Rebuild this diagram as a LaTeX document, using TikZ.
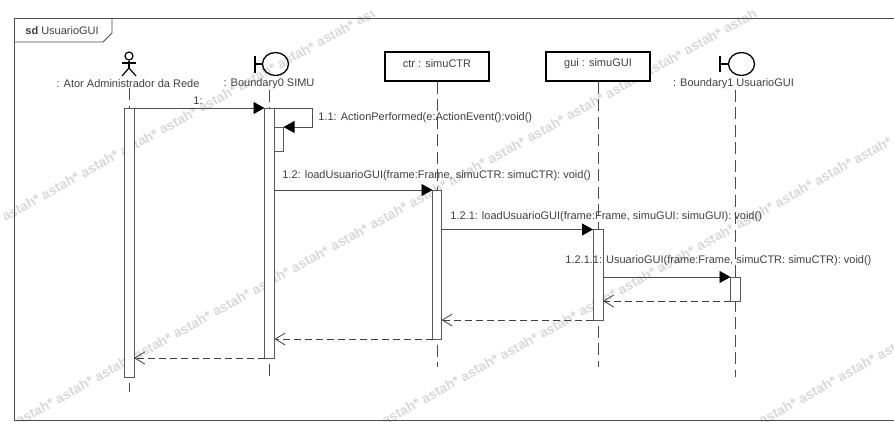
\documentclass[tikz,border=0pt]{standalone}
\usepackage{fontspec}
\setmainfont{Liberation Sans}
\usetikzlibrary{arrows.meta, shapes.geometric}

\begin{document}
\begin{tikzpicture}[x=1pt, y=-1pt, line width=0.8pt,
  wmark/.style={rotate=29, anchor=base west, text=black!15, font=\fontsize{13.7}{15}\selectfont\bfseries, inner sep=0pt},
  lbl/.style={text=black!75, font=\fontsize{11}{12}\selectfont, inner sep=0pt},
  life/.style={black!70, dash pattern=on 12pt off 5.5pt},
  lifeend/.style={life, dash phase=12pt},
  activation/.style={draw=black!65, fill=white, minimum width=10pt, inner sep=0pt, outer sep=0pt},
  objbox/.style={draw=black, line width=1.6pt, fill=white, minimum width=104pt, minimum height=29pt, inner sep=0pt},
  bndcirc/.style={ellipse, draw=black, line width=1.3pt, minimum width=26pt, minimum height=23pt, inner sep=0pt},
  msg/.style={black!70, -{Triangle[length=11pt, width=12pt, color=black]}},
  ret/.style={black!75, dash pattern=on 7pt off 4pt, -{Straight Barb[length=10pt, width=12pt]}}]
  \useasboundingbox (0,0) rectangle (894,421);
  \fill[white] (0,0) rectangle (894,421);
  \def\wm{astah* astah* astah* astah* astah* astah* astah* }
  % watermark strips
  \begin{scope}
    \clip (0,11) rectangle (894,421);
    \node[wmark] (wmA) at (5,222) {\wm astah* astah* ast};
    \node[wmark] (wmB) at (19,426) {\wm\wm\wm};
    \node[wmark] (wmC) at (385,426) {\wm\wm};
    \node[wmark] (wmD) at (762,426) {astah* astah* astah* astah*};
  \end{scope}
  % frame
  \draw[black!70] (894,18.5) -- (14.5,18.5) -- (14.5,420.5) -- (894,420.5);
  \draw[black!70, fill=white] (14.5,18.5) -- (112,18.5) -- (112,33) -- (103,42) -- (14.5,42) -- cycle;
  \node[lbl, anchor=west] (title) at (25,31) {\textbf{sd}~UsuarioGUI};
  % linhas das mensagens
  \coordinate (y1) at (0,108);
  \coordinate (y11) at (0,127);
  \coordinate (y12) at (0,190);
  \coordinate (y121) at (0,229.5);
  \coordinate (y1211) at (0,277);
  \coordinate (r1) at (0,301);
  \coordinate (r2) at (0,320);
  \coordinate (r3) at (0,339);
  \coordinate (r4) at (0,358);
  % ator
  \node[circle, draw=black, line width=1.2pt, minimum size=8pt, inner sep=0pt] (head) at (129,56) {};
  \coordinate (hip) at (129,68);
  \draw[line width=1.2pt] (head.south) -- (hip);
  \draw[line width=1.2pt] (122,63) -- (136,63);
  \draw[line width=1.2pt] (122,76) -- (hip) -- (136,76);
  \node[lbl] (ator) at (128,84) {: Ator Administrador da Rede};
  % boundary 0
  \node[bndcirc] (bnd0) at (275.5,64) {};
  \draw[line width=1.3pt] (bnd0.west) -- (255,64);
  \draw[line width=1.3pt] (255,56) -- (255,73);
  \node[lbl] (bnd0lbl) at (269,84) {: Boundary0 SIMU};
  % objetos
  \node[objbox] (ctr) at (437,66.5) {};
  \node[lbl] (ctrlbl) at (437,64) {ctr : simuCTR};
  \node[objbox] (gui) at (598,66.5) {};
  \node[lbl] (guilbl) at (598,64) {gui : simuGUI};
  % boundary 1
  \node[bndcirc] (bnd1) at (741.5,64) {};
  \draw[line width=1.3pt] (bnd1.west) -- (720,64);
  \draw[line width=1.3pt] (720,56) -- (720,72);
  \node[lbl] (bnd1lbl) at (733.5,84) {: Boundary1 UsuarioGUI};
  % ativacoes
  \node[activation, minimum height=269pt] (actA) at (129,242.5) {};
  \node[activation, minimum height=250pt] (actB) at (269.5,233) {};
  \node[activation, minimum width=9pt, minimum height=24pt] (actB2) at (279,139) {};
  \node[activation, minimum width=9pt, minimum height=149pt] (actC) at (437,264.5) {};
  \node[activation, minimum height=90.5pt] (actD) at (598,274.75) {};
  \coordinate (endE) at (735,377);
  % lifelines
  \coordinate (endA) at (129,392);
  \coordinate (endB) at (269.5,376);
  \coordinate (endC) at (437,367);
  \coordinate (endD) at (598,367);
  \draw[life] (actA |- ator.south) -- (actA.north);
  \draw[lifeend] (actA.south) -- (endA);
  \draw[life] (actB |- bnd0lbl.south) -- (actB.north);
  \draw[lifeend] (actB.south) -- (endB);
  \draw[life] (ctr.south) -- (actC.north);
  \draw[lifeend] (actC.south) -- (endC);
  \draw[life] (gui.south) -- (actD.north);
  \draw[lifeend] (actD.south) -- (endD);
  \draw[life] (endE |- bnd1lbl.south) -- (endE);
  \node[activation, minimum height=24pt] (actE) at (735.5,289) {};
  % mensagens
  \draw[msg] (actA.east |- y1) -- (actB.west |- y1);
  \draw[msg] (actB.east |- y1) -| (312,127) -- (actB2.east |- y11);
  \draw[msg] (actB.east |- y12) -- (actC.west |- y12);
  \draw[msg] (actC.east |- y121) -- (actD.west |- y121);
  \draw[msg] (actD.east |- y1211) -- (actE.west |- y1211);
  \draw[ret] (actE.west |- r1) -- (actD.east |- r1);
  \draw[ret] (actD.west |- r2) -- (actC.east |- r2);
  \draw[ret] (actC.west |- r3) -- (actB.east |- r3);
  \draw[ret] (actB.west |- r4) -- (actA.east |- r4);
  % textos
  \node[lbl] (m1) at (198,101) {1:};
  \node[lbl, anchor=west] (m11) at (318,118) {1.1: ActionPerformed(e:ActionEvent():void()};
  \node[lbl, anchor=west] (m12) at (282,176) {1.2: loadUsuarioGUI(frame:Frame, simuCTR: simuCTR): void()};
  \node[lbl, anchor=west] (m121) at (450,217) {1.2.1: loadUsuarioGUI(frame:Frame, simuGUI: simuGUI): void()};
  \node[lbl, anchor=west] (m1211) at (565,261) {1.2.1.1: UsuarioGUI(frame:Frame, simuCTR: simuCTR): void()};
\end{tikzpicture}
\end{document}
